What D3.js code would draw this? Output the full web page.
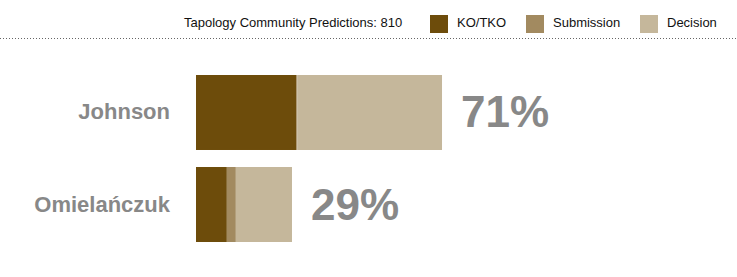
<!DOCTYPE html>
<html>
<head>
<meta charset="utf-8">
<script src="https://cdn.jsdelivr.net/npm/d3@7"></script>
<style>
  body { margin: 0; background: #fff; }
  text { font-family: Arial, "Liberation Sans", sans-serif; }
</style>
</head>
<body>
<div id="chart"></div>
<script>
// data (share of all predictions, in %)
var fighters = ["Johnson", "Omielańczuk"]
var methods = ["KO/TKO", "Submission", "Decision"]
var koValues = [28.9, 8.9]
var subValues = [0.3, 2.6]
var decValues = [41.8, 16.2]
var pctLabels = ["71%", "29%"]
var totalPredictions = 810

var colors = ["#6d4c0b", "#a28a60", "#c5b79b"]

var width = 737, height = 277

var svg = d3.select("#chart")
    .append("svg")
    .attr("width", width)
    .attr("height", height)

// header: title + legend
svg.append("text")
    .attr("x", 184)
    .attr("y", 27)
    .attr("font-size", "13px")
    .attr("fill", "#111")
    .text("Tapology Community Predictions: " + totalPredictions)

var legendX = [430, 526, 640]
var legend = svg.selectAll(".legend")
    .data(methods)
    .enter()
    .append("g")
    .attr("transform", function(d, i) { return "translate(" + legendX[i] + ",15)" })

legend.append("rect")
    .attr("width", 18)
    .attr("height", 18)
    .attr("fill", function(d, i) { return colors[i] })

legend.append("text")
    .attr("x", 27)
    .attr("y", 12)
    .attr("font-size", "13px")
    .attr("fill", "#111")
    .text(function(d) { return d })

// dotted separator
svg.append("line")
    .attr("x1", 0)
    .attr("x2", width)
    .attr("y1", 38.5)
    .attr("y2", 38.5)
    .attr("stroke", "#666")
    .attr("stroke-dasharray", "1,2")

// scales
var x = d3.scaleLinear()
    .domain([0, 100])
    .range([196, 196 + 346.5])

var y = d3.scaleBand()
    .domain(fighters)
    .range([75, 242])
    .paddingInner(0.185)
    .paddingOuter(0)

var stackData = fighters.map(function(f, i) {
    return { name: f, "KO/TKO": koValues[i], "Submission": subValues[i], "Decision": decValues[i] }
})
var series = d3.stack().keys(methods)(stackData)

svg.selectAll(".series")
    .data(series)
    .enter()
    .append("g")
    .attr("fill", function(d, i) { return colors[i] })
    .selectAll("rect")
    .data(function(d) { return d })
    .enter()
    .append("rect")
    .attr("x", function(d) { return x(d[0]) })
    .attr("width", function(d) { return x(d[1]) - x(d[0]) })
    .attr("y", function(d) { return y(d.data.name) })
    .attr("height", y.bandwidth())

// fighter names
svg.selectAll(".name")
    .data(fighters)
    .enter()
    .append("text")
    .attr("x", 170)
    .attr("y", function(d) { return y(d) + y.bandwidth() / 2 + 7 })
    .attr("text-anchor", "end")
    .attr("font-size", "22px")
    .attr("font-weight", "bold")
    .attr("fill", "#888")
    .text(function(d) { return d })

// percentage labels
svg.selectAll(".pct")
    .data(stackData)
    .enter()
    .append("text")
    .attr("x", function(d) { return x(d["KO/TKO"] + d["Submission"] + d["Decision"]) + 19 })
    .attr("y", function(d) { return y(d.name) + y.bandwidth() / 2 + 15 })
    .attr("font-size", "44px")
    .attr("font-weight", "bold")
    .attr("fill", "#888")
    .text(function(d, i) { return pctLabels[i] })
</script>
</body>
</html>
